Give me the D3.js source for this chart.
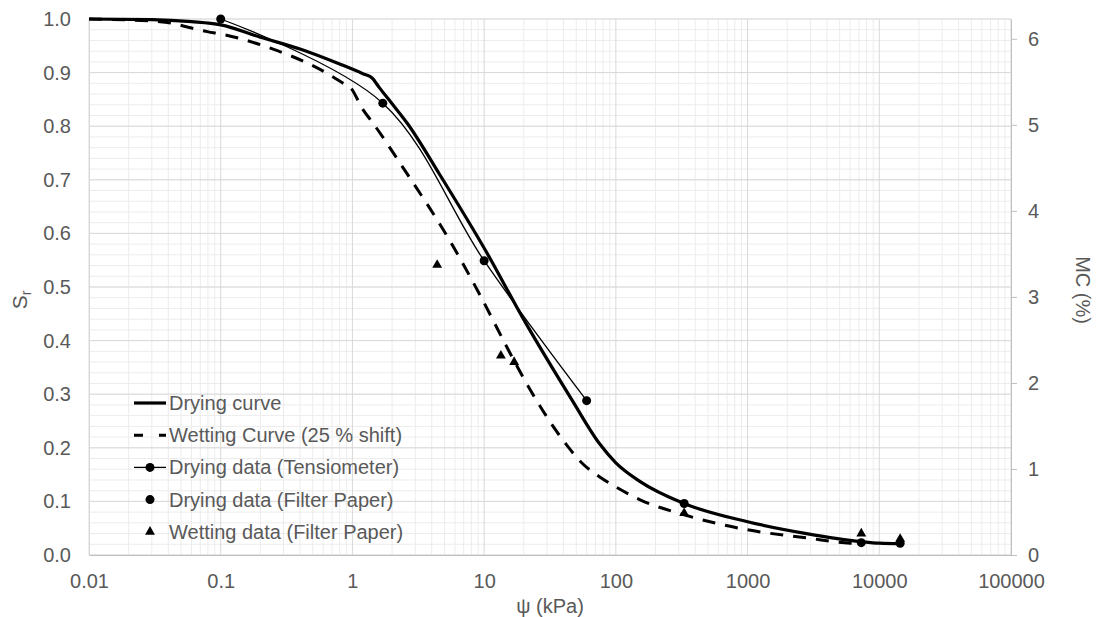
<!DOCTYPE html>
<html>
<head>
<meta charset="utf-8">
<script src="https://cdn.jsdelivr.net/npm/d3@7"></script>
<style>
  body { margin: 0; background: #fff; }
  text { font-family: "Liberation Sans", Arial, sans-serif; fill: #595959; }
</style>
</head>
<body>
<svg width="1100" height="617"></svg>
<script>
// data (suction in kPa, degree of saturation Sr)
const dryingKpa = [0.01, 0.03, 0.06, 0.1, 0.2, 0.4, 0.8, 1.2, 1.41, 1.6, 2.0, 2.6, 4.62, 10.2, 19.9, 46.5, 75, 100, 153, 330, 1000, 2800, 7280, 10000, 14500];
const dryingSr  = [1.0, 0.999, 0.995, 0.989, 0.966, 0.944, 0.916, 0.898, 0.890, 0.872, 0.842, 0.806, 0.709, 0.569, 0.440, 0.289, 0.208, 0.172, 0.137, 0.096, 0.062, 0.040, 0.025, 0.022, 0.021];

const wettingKpa = [0.01, 0.0347, 0.0805, 0.1, 0.223, 0.638, 0.853, 0.95, 1.21, 1.44, 2.3, 5.84, 9.3, 14.8, 21, 42.4, 55, 75, 100, 153, 330, 1000, 2800, 6000, 7300];
const wettingSr  = [1.0, 0.995, 0.976, 0.972, 0.948, 0.899, 0.880, 0.874, 0.830, 0.805, 0.731, 0.575, 0.485, 0.389, 0.320, 0.205, 0.172, 0.146, 0.127, 0.103, 0.075, 0.047, 0.032, 0.022, 0.021];

const tensKpa = [0.1, 1.7, 10, 60];
const tensSr  = [1.0, 0.843, 0.549, 0.288];

const fpDryKpa = [330, 7300, 14400];
const fpDrySr  = [0.096, 0.023, 0.022];

const fpWetKpa = [4.4, 13.4, 16.9, 330, 7300, 14400];
const fpWetSr  = [0.541, 0.372, 0.360, 0.078, 0.040, 0.030];

const xTicks = [0.01, 0.1, 1, 10, 100, 1000, 10000, 100000];
const yTicks = [0, 0.1, 0.2, 0.3, 0.4, 0.5, 0.6, 0.7, 0.8, 0.9, 1.0];
const mcTicks = [0, 1, 2, 3, 4, 5, 6];

const legendNames = ["Drying curve", "Wetting Curve (25 % shift)", "Drying data (Tensiometer)", "Drying data (Filter Paper)", "Wetting data (Filter Paper)"];

// plot box
const plotLeft = 89, plotRight = 1011, plotTop = 19, plotBottom = 555;

const svg = d3.select("svg");

const x = d3.scaleLog().domain([0.01, 100000]).range([plotLeft, plotRight]);
const y = d3.scaleLinear().domain([0, 1]).range([plotBottom, plotTop]);
const y2 = d3.scaleLinear().domain([0, 6.23]).range([plotBottom, plotTop]);

// minor gridlines
const minorX = [];
xTicks.slice(0, -1).forEach(d => { for (let k = 2; k <= 9; k++) minorX.push(d * k); });
const minorY = d3.range(0, 51).map(i => i / 50);

const grid = svg.append("g");
grid.selectAll(".mx").data(minorX).join("line")
  .attr("x1", d => x(d)).attr("x2", d => x(d))
  .attr("y1", plotTop).attr("y2", plotBottom)
  .attr("stroke", "#ececec").attr("stroke-width", 1);
grid.selectAll(".my").data(minorY).join("line")
  .attr("x1", plotLeft).attr("x2", plotRight)
  .attr("y1", d => y(d)).attr("y2", d => y(d))
  .attr("stroke", "#ececec").attr("stroke-width", 1);
// major gridlines
grid.selectAll(".gx").data(xTicks).join("line")
  .attr("x1", d => x(d)).attr("x2", d => x(d))
  .attr("y1", plotTop).attr("y2", plotBottom)
  .attr("stroke", "#d9d9d9").attr("stroke-width", 1);
grid.selectAll(".gy").data(yTicks).join("line")
  .attr("x1", plotLeft).attr("x2", plotRight)
  .attr("y1", d => y(d)).attr("y2", d => y(d))
  .attr("stroke", "#d9d9d9").attr("stroke-width", 1);

// axes
const xAxis = svg.append("g")
  .attr("transform", `translate(0, ${plotBottom})`)
  .call(d3.axisBottom(x).tickValues(xTicks).tickFormat(d => String(d)).tickSize(0).tickSizeOuter(0).tickPadding(19));
xAxis.select(".domain").attr("stroke", "#bfbfbf");

const yAxis = svg.append("g")
  .attr("transform", `translate(${plotLeft}, 0)`)
  .call(d3.axisLeft(y).tickValues(yTicks).tickFormat(d3.format(".1f")).tickSize(0).tickSizeOuter(0).tickPadding(18));
yAxis.select(".domain").attr("stroke", "#d9d9d9");

const y2Axis = svg.append("g")
  .attr("transform", `translate(${plotRight}, 0)`)
  .call(d3.axisRight(y2).tickValues(mcTicks).tickFormat(d3.format("d")).tickSize(6).tickSizeOuter(0).tickPadding(11));
y2Axis.select(".domain").attr("stroke", "#bfbfbf");
y2Axis.selectAll(".tick line").attr("stroke", "#bfbfbf");

svg.selectAll(".tick text")
  .attr("font-size", 20)
  .attr("font-family", "Liberation Sans, Arial, sans-serif")
  .attr("fill", "#595959");

// axis titles
svg.append("text")
  .attr("x", (plotLeft + plotRight) / 2).attr("y", 613)
  .attr("text-anchor", "middle").attr("font-size", 20)
  .text("ψ (kPa)");

const sr = svg.append("text")
  .attr("transform", "translate(27, 300) rotate(-90)")
  .attr("text-anchor", "middle").attr("font-size", 21);
sr.append("tspan").text("S");
sr.append("tspan").attr("font-size", 14).attr("dy", 4).text("r");

svg.append("text")
  .attr("transform", "translate(1076, 290) rotate(90)")
  .attr("text-anchor", "middle").attr("font-size", 20)
  .text("MC (%)");

// curves
const toPts = (ks, ss) => ks.map((k, i) => [k, ss[i]]);
const smooth = d3.line().x(d => x(d[0])).y(d => y(d[1])).curve(d3.curveMonotoneX);
const excelSmooth = d3.line().x(d => x(d[0])).y(d => y(d[1])).curve(d3.curveCardinal.tension(0));

svg.append("path")
  .attr("d", smooth(toPts(wettingKpa, wettingSr)))
  .attr("fill", "none").attr("stroke", "#000").attr("stroke-width", 3)
  .attr("stroke-dasharray", "13,10");

svg.append("path")
  .attr("d", smooth(toPts(dryingKpa, dryingSr)))
  .attr("fill", "none").attr("stroke", "#000").attr("stroke-width", 3.2);

svg.append("path")
  .attr("d", excelSmooth(toPts(tensKpa, tensSr)))
  .attr("fill", "none").attr("stroke", "#000").attr("stroke-width", 1.3);

// markers
const tri = d3.symbol().type(d3.symbolTriangle).size(42);

svg.selectAll(".tens").data(toPts(tensKpa, tensSr)).join("circle")
  .attr("cx", d => x(d[0])).attr("cy", d => y(d[1])).attr("r", 4.5).attr("fill", "#000");

svg.selectAll(".fpd").data(toPts(fpDryKpa, fpDrySr)).join("circle")
  .attr("cx", d => x(d[0])).attr("cy", d => y(d[1])).attr("r", 4.5).attr("fill", "#000");

svg.selectAll(".fpw").data(toPts(fpWetKpa, fpWetSr)).join("path")
  .attr("d", tri)
  .attr("transform", d => `translate(${x(d[0])}, ${y(d[1])})`)
  .attr("fill", "#000");

// legend
const legend = svg.append("g").attr("transform", "translate(134, 403)");
const rowH = 32.2;
legendNames.forEach((name, i) => {
  const g = legend.append("g").attr("transform", `translate(0, ${i * rowH})`);
  if (i === 0) {
    g.append("line").attr("x1", 0).attr("x2", 32).attr("stroke", "#000").attr("stroke-width", 3.2);
  } else if (i === 1) {
    g.append("line").attr("x1", 0).attr("x2", 32).attr("stroke", "#000").attr("stroke-width", 3)
      .attr("stroke-dasharray", "9,16");
  } else if (i === 2) {
    g.append("line").attr("x1", 0).attr("x2", 32).attr("stroke", "#000").attr("stroke-width", 1.3);
    g.append("circle").attr("cx", 16).attr("r", 4.5).attr("fill", "#000");
  } else if (i === 3) {
    g.append("circle").attr("cx", 16).attr("r", 4.5).attr("fill", "#000");
  } else {
    g.append("path").attr("d", tri).attr("transform", "translate(16, 0)").attr("fill", "#000");
  }
  g.append("text")
    .attr("x", 35).attr("y", 0)
    .attr("dominant-baseline", "central")
    .attr("font-size", 20)
    .text(name);
});
</script>
</body>
</html>
